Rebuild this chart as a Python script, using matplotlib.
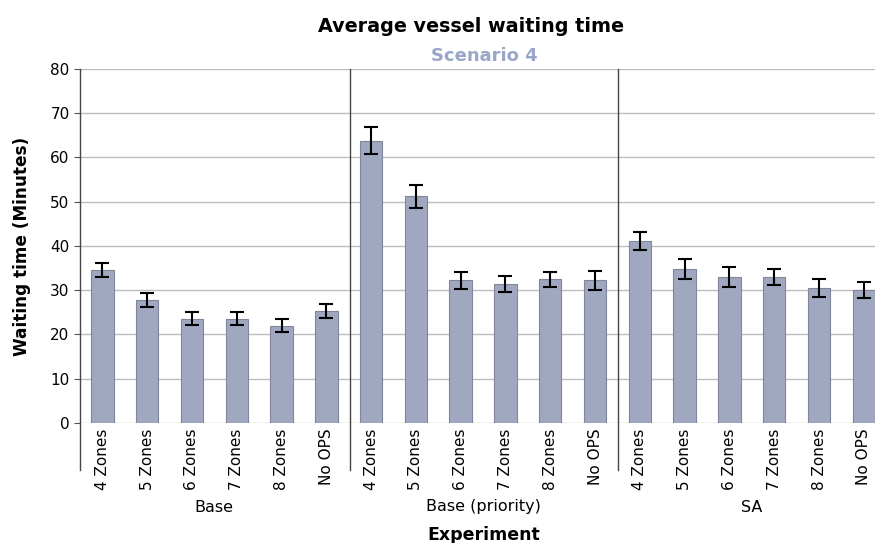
import matplotlib.pyplot as plt
import matplotlib.transforms as mtransforms
import numpy as np

grupos = ['Base', 'Base (priority)', 'SA']
zonas = ['4 Zones', '5 Zones', '6 Zones', '7 Zones', '8 Zones', 'No OPS']
medias = [34.6, 27.7, 23.6, 23.6, 22.0, 25.4,
          63.8, 51.2, 32.2, 31.4, 32.5, 32.2,
          41.1, 34.8, 33.0, 33.0, 30.5, 30.1]
errores = [1.5, 1.6, 1.4, 1.4, 1.4, 1.6,
           3.0, 2.6, 2.0, 1.9, 1.7, 2.2,
           2.1, 2.2, 2.3, 1.8, 2.1, 1.8]

etiquetas = zonas * len(grupos)
x = np.arange(len(medias))

fig = plt.figure(figsize=(8.75, 5.43), dpi=100)
ax = fig.add_axes([0.0914, 0.221, 0.9086, 0.652])

ax.bar(x, medias, width=0.5, color='#a0a7c0', edgecolor='#80869a', linewidth=0.8,
       yerr=errores, capsize=5, error_kw={'elinewidth': 1.5, 'capthick': 1.5, 'ecolor': 'black'},
       zorder=3)

ax.set_xlim(-0.5, 17.25)
ax.set_ylim(0, 80)
ax.set_yticks(range(0, 81, 10))
ax.yaxis.grid(True, color='#bdbdbd', linewidth=1, zorder=0)
ax.set_xticks(x)
ax.set_xticklabels(etiquetas, rotation=90, fontsize=11)
ax.tick_params(axis='x', length=0, pad=4)
ax.tick_params(axis='y', labelsize=11, length=4, color='#555555')
for lado in ['top', 'right', 'bottom', 'left']:
    ax.spines[lado].set_visible(False)

# separadores de grupos (bajan por debajo del eje)
for sx in [-0.5, 5.52, 11.52]:
    ax.axvline(sx, ymin=-0.133, ymax=1, color='#444444', linewidth=1, clip_on=False, zorder=4)

trans = mtransforms.blended_transform_factory(ax.transData, fig.transFigure)
for i, g in enumerate(grupos):
    ax.text(i * 6 + 2.5, (543 - 507) / 543, g, transform=trans, ha='center', va='center', fontsize=11.5)

fig.text(0.553, (543 - 535) / 543, 'Experiment', ha='center', va='center', fontsize=12.5, fontweight='bold')
ax.set_ylabel('Waiting time (Minutes)', fontsize=12.2, fontweight='bold', labelpad=14)
fig.text(0.538, (543 - 26) / 543, 'Average vessel waiting time', ha='center', va='center',
         fontsize=13.8, fontweight='bold')
fig.text(0.553, (543 - 56) / 543, 'Scenario 4', ha='center', va='center',
         fontsize=13, fontweight='bold', color='#9aa6c8')

plt.savefig('out.png', dpi=100)
plt.close()
